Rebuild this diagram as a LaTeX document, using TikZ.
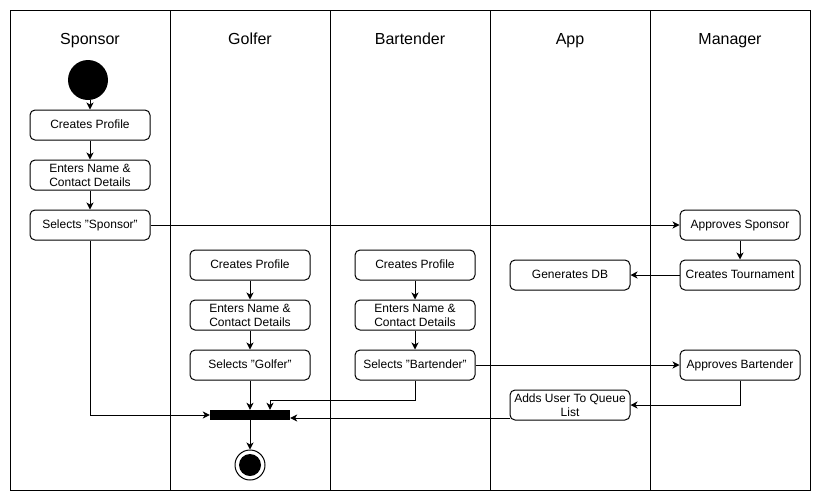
\documentclass[tikz,border=0pt]{standalone}
\usepackage{fontspec}
\setmainfont{Liberation Sans}
\usetikzlibrary{arrows.meta}
\begin{document}
\begin{tikzpicture}[x=1pt,y=-1pt,
  lane/.style={draw=black,line width=1pt},
  title/.style={font=\fontsize{16}{19}\selectfont,anchor=center,text height=11.5pt,text depth=3.4pt},
  act/.style={draw=black,line width=1pt,rounded corners=5pt,minimum width=120pt,minimum height=30pt,inner sep=0pt,align=center,font=\fontsize{12}{14}\selectfont},
  act1/.style={act,text height=8.6pt,text depth=2.6pt},
  flow/.style={draw=black,line width=1pt,-{Stealth[length=7pt,width=7pt,inset=2pt]}}]
\useasboundingbox (0,0) rectangle (821,501);
\fill[white] (0,0) rectangle (821,501);
% lanes
\draw[lane] (10,10) rectangle (810,490);
\foreach \x in {170,330,490,650} \draw[lane] (\x,10) -- (\x,490);
\node[title] (tS) at (90,40.5) {Sponsor};
\node[title] (tG) at (250,40.5) {Golfer};
\node[title] (tB) at (410,40.5) {Bartender};
\node[title] (tA) at (570,40.5) {App};
\node[title] (tM) at (730,40.5) {Manager};
% start
\node[circle,fill=black,minimum size=40pt,inner sep=0pt] (start) at (88,80) {};
% sponsor
\node[act1] (s1) at (90,125) {Creates Profile};
\node[act] (s2) at (90,175) {Enters Name \&\\Contact Details};
\node[act1] (s3) at (90,225) {Selects "Sponsor"};
% golfer
\node[act1] (g1) at (250,265) {Creates Profile};
\node[act] (g2) at (250,315) {Enters Name \&\\Contact Details};
\node[act1] (g3) at (250,365) {Selects "Golfer"};
% bartender
\node[act1] (b1) at (415,265) {Creates Profile};
\node[act] (b2) at (415,315) {Enters Name \&\\Contact Details};
\node[act1] (b3) at (415,365) {Selects "Bartender"};
% app
\node[act1] (a1) at (570,275) {Generates DB};
\node[act] (a2) at (570,405) {Adds User To Queue\\List};
% manager
\node[act1] (m1) at (740,225) {Approves Sponsor};
\node[act1] (m2) at (740,275) {Creates Tournament};
\node[act1] (m3) at (740,365) {Approves Bartender};
% join bar and end
\node[fill=black,minimum width=80pt,minimum height=10pt,inner sep=0pt] (bar) at (250,415) {};
\node[circle,draw=black,line width=1pt,minimum size=30pt,inner sep=0pt] (endo) at (250,465) {};
\node[circle,fill=black,minimum size=22pt,inner sep=0pt] (endi) at (250,465) {};
% connectors
\draw[flow] (start.south -| s1.north) -- (s1.north);
\draw[flow] (s1) -- (s2);
\draw[flow] (s2) -- (s3);
\draw[flow] (s3) -- (m1);
\draw[flow] (m1) -- (m2);
\draw[flow] (m2) -- (a1);
\draw[flow] (g1) -- (g2);
\draw[flow] (g2) -- (g3);
\draw[flow] (b1) -- (b2);
\draw[flow] (b2) -- (b3);
\draw[flow] (b3) -- (m3);
\coordinate (bj) at (270,400);
\draw[flow] (b3.south) |- (bj) -- (bj |- bar.north);
\draw[flow] (g3) -- (bar);
\draw[flow] (s3.south) |- (bar.west);
\draw[flow] (m3.south) |- (a2.east);
\coordinate (aq) at (510,418);
\draw[flow] (aq) -- (aq -| bar.east);
\draw[flow] (bar) -- (endo);
\end{tikzpicture}
\end{document}
